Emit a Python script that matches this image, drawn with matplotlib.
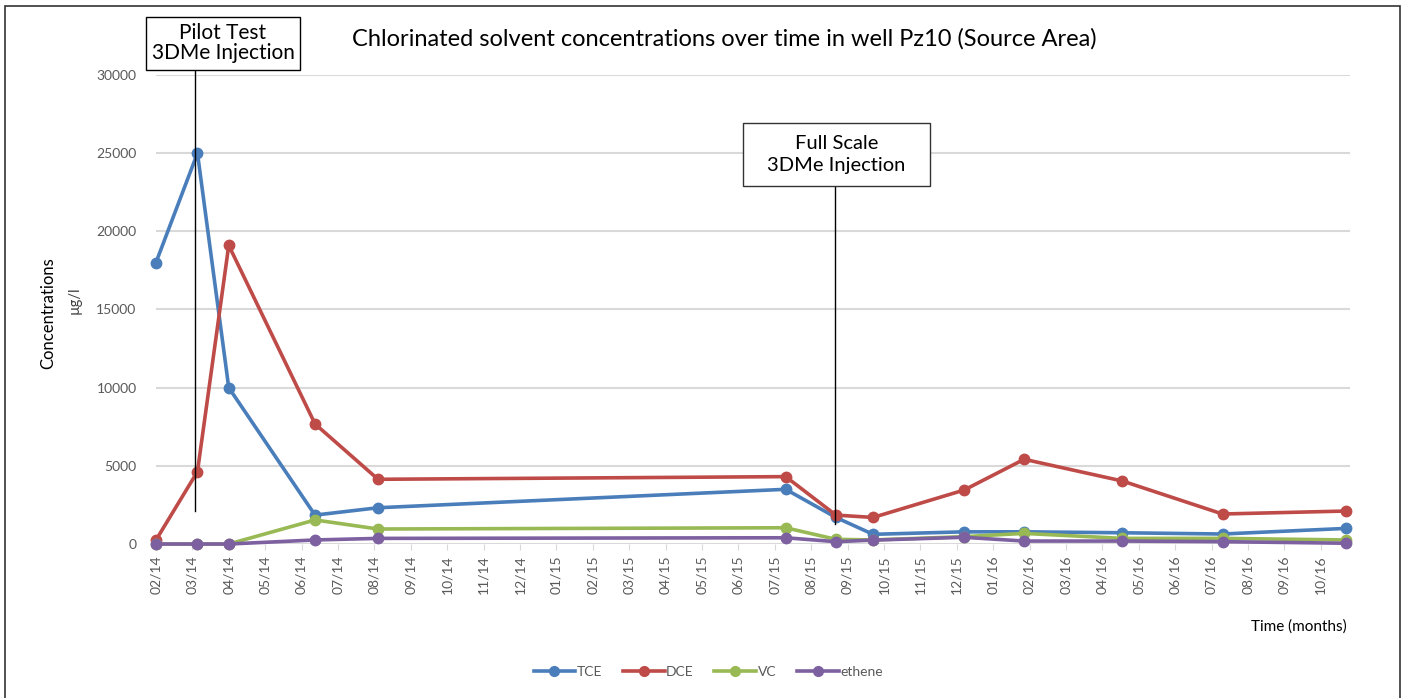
import matplotlib.pyplot as plt
import numpy as np
from matplotlib.lines import Line2D
from matplotlib.patches import Rectangle

plt.rcParams['font.family'] = ['Lato', 'DejaVu Sans']

# month labels (one tick per month, 02/14 .. 10/16)
months = ['02/14', '03/14', '04/14', '05/14', '06/14', '07/14', '08/14', '09/14',
          '10/14', '11/14', '12/14', '01/15', '02/15', '03/15', '04/15', '05/15',
          '06/15', '07/15', '08/15', '09/15', '10/15', '11/15', '12/15', '01/16',
          '02/16', '03/16', '04/16', '05/16', '06/16', '07/16', '08/16', '09/16', '10/16']

# sampling dates, as months since 02/14
t = [0, 1.14, 2.0, 4.37, 6.1, 17.3, 18.68, 19.7, 22.2, 23.85, 26.55, 29.3, 32.7]

tce = [18000, 25000, 10000, 1850, 2320, 3500, 1700, 620, 780, 780, 720, 640, 1000]
dce = [250, 4630, 19100, 7680, 4140, 4310, 1850, 1700, 3450, 5420, 4030, 1920, 2110]
vc = [0, 0, 0, 1540, 960, 1040, 300, 260, 470, 680, 360, 360, 260]
ethene = [0, 0, 0, 260, 360, 400, 150, 250, 430, 190, 190, 150, 50]

series = [('TCE', tce, '#4A7EBB'), ('DCE', dce, '#BE4B48'),
          ('VC', vc, '#98B954'), ('ethene', ethene, '#7D60A0')]

# injection events: month position, line bottom / top (data units)
pilot_t, pilot_y = 1.07, (2100, 30300)
full_t, full_y = 18.65, (1300, 22900)

fig = plt.figure(figsize=(14.05, 6.98), dpi=100)
ax = fig.add_axes([0.111, 0.2206, 0.8498, 0.672])

for name, vals, col in series:
    ax.plot(t, vals, color=col, lw=2.6, marker='o', ms=7.5, label=name,
            clip_on=False, zorder=3)

ax.set_xlim(0, 32.8)
ax.set_ylim(0, 30000)
ax.set_xticks(np.arange(len(months)))
ax.set_xticklabels(months, rotation=90, fontsize=10, color='#595959')
ax.set_yticks(np.arange(0, 30001, 5000))
ax.set_yticklabels([str(v) for v in range(0, 30001, 5000)], fontsize=10, color='#595959')
ax.tick_params(axis='y', length=0, pad=14)
ax.tick_params(axis='x', length=4, color='#d9d9d9', pad=4)
ax.grid(axis='y', color='#d9d9d9', lw=1.5)
ax.set_axisbelow(True)
for s in ax.spines.values():
    s.set_visible(False)

# injection markers
ax.plot([pilot_t, pilot_t], pilot_y, color='black', lw=1, clip_on=False, zorder=4)
ax.plot([full_t, full_t], full_y, color='black', lw=1, clip_on=False, zorder=4)

fig.patches.append(Rectangle((0.1039, 0.8997), 0.1096, 0.0759, transform=fig.transFigure,
                             fc='white', ec='black', lw=1))
fig.text(0.1587, 0.9377, 'Pilot Test\n3DMe Injection', ha='center', va='center',
         fontsize=15, linespacing=1.0)
fig.patches.append(Rectangle((0.5288, 0.7335), 0.1331, 0.0903, transform=fig.transFigure,
                             fc='white', ec='#333333', lw=1))
fig.text(0.5954, 0.7787, 'Full Scale\n3DMe Injection', ha='center', va='center',
         fontsize=14.5, linespacing=1.35)

fig.text(0.5157, 0.945, 'Chlorinated solvent concentrations over time in well Pz10 (Source Area)',
         ha='center', va='center', fontsize=17)
fig.text(0.034, 0.552, 'Concentrations', rotation=90, ha='center', va='center', fontsize=12)
fig.text(0.053, 0.57, 'µg/l', rotation=90, ha='center', va='center', fontsize=10.5,
         color='#404040')
fig.text(0.9587, 0.1017, 'Time (months)', ha='right', va='center', fontsize=11)

handles = [Line2D([], [], color=c, lw=2.6, marker='o', ms=7) for _, _, c in series]
fig.legend(handles, [n for n, _, _ in series], loc='center', bbox_to_anchor=(0.504, 0.037),
           ncol=4, frameon=False, fontsize=10, handlelength=3, columnspacing=1.5,
           handletextpad=0.1, labelcolor='#595959')

fig.patches.append(Rectangle((0.0036, -0.05), 0.9928, 1.041, transform=fig.transFigure,
                             fill=False, ec='#333333', lw=1.2))

plt.savefig('out.png', dpi=100)
